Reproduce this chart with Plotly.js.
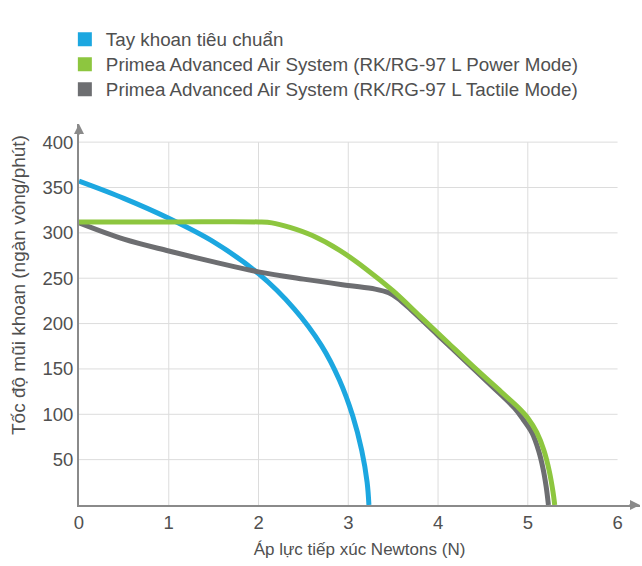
<!DOCTYPE html>
<html>
<head>
<meta charset="utf-8">
<script src="https://cdn.plot.ly/plotly-3.0.1.min.js"></script>
<style>html,body{margin:0;padding:0;background:#fff;}</style>
</head>
<body>
<div id="chart" style="width:642px;height:566px;"></div>
<script>
// Data
const seriesNames = [
  "Tay khoan tiêu chuẩn",
  "Primea Advanced Air System (RK/RG-97 L Power Mode)",
  "Primea Advanced Air System (RK/RG-97 L Tactile Mode)"
];
const blueX  = [0, 0.5, 1, 1.5, 2, 2.4, 2.7, 2.9, 3.05, 3.15, 3.21, 3.23];
const blueY  = [357, 338, 316, 290, 255, 216, 176, 138, 98, 60, 25, 0];
const greenX = [0, 1, 2, 2.15, 2.35, 2.6, 2.9, 3.2, 3.5, 3.8, 4.1, 4.4, 4.7, 4.9, 5.0, 5.1, 5.18, 5.24, 5.28, 5.3];
const greenY = [312, 312, 312, 311, 306, 297, 281, 260, 236, 208, 180, 152, 125, 107, 96, 80, 60, 37, 15, 0];
const grayX  = [0, 0.5, 1, 1.5, 2, 2.5, 3, 3.3, 3.45, 3.55, 3.7, 4.0, 4.3, 4.6, 4.85, 4.95, 5.05, 5.12, 5.17, 5.205, 5.23];
const grayY  = [311, 293, 280, 268, 257, 249, 242, 238, 234, 228, 215, 187, 159, 131, 107, 94, 79, 60, 40, 20, 0];
const xTicks = [0, 1, 2, 3, 4, 5, 6];
const yTicks = [50, 100, 150, 200, 250, 300, 350, 400];
const xTitle = "Áp lực tiếp xúc Newtons (N)";
const yTitle = "Tốc độ mũi khoan (ngàn vòng/phút)";
const colors = ["#1ca7e0", "#8dc63f", "#6d6e71"];

const xs = [blueX, greenX, grayX];
const ys = [blueY, greenY, grayY];
const order = [0, 2, 1];
const traces = [];
order.forEach(i => {
  traces.push({
    x: xs[i], y: ys[i], type: "scatter", mode: "lines",
    line: {color: colors[i], width: 5, shape: "spline", smoothing: 1},
    showlegend: false, hoverinfo: "skip"
  });
});
[0, 1, 2].forEach(i => {
  traces.push({
    x: [null], y: [null], type: "scatter", mode: "markers",
    name: '<span style="font-size:18.8px">' + seriesNames[i] + '</span>',
    marker: {symbol: "square", size: 14, color: colors[i]}, showlegend: true
  });
});

const shapes = [];
xTicks.filter(v => v > 0 && v < 6).forEach(v => {
  shapes.push({type: "line", xref: "x", yref: "y", x0: v, x1: v, y0: 0, y1: 400,
    line: {color: "#dcdcdc", width: 1}, layer: "below"});
});
yTicks.forEach(v => {
  shapes.push({type: "line", xref: "x", yref: "y", x0: 0, x1: 6, y0: v, y1: v,
    line: {color: "#dcdcdc", width: 1}, layer: "below"});
});

const fam = "Liberation Sans, Arial, sans-serif";
const tc = "#505050";
const font = {family: fam, size: 18.5, color: tc};
const layout = {
  width: 642, height: 566,
  margin: {l: 79, r: 2, t: 124, b: 61},
  paper_bgcolor: "#ffffff", plot_bgcolor: "#ffffff",
  font: font,
  showlegend: true,
  legend: {x: -0.027, y: 0.9615, yref: "container", xanchor: "left", yanchor: "top",
           font: {family: fam, size: 16.9, color: tc}, bgcolor: "rgba(0,0,0,0)",
           tracegroupgap: 0, itemwidth: 32},
  xaxis: {range: [0, 6.25], tickvals: xTicks, ticktext: xTicks.map(String),
          showgrid: false, zeroline: false, showline: true, linecolor: "#8a8a8a", linewidth: 2,
          ticks: "", tickfont: font, fixedrange: true,
          title: {text: xTitle, font: {family: fam, size: 17, color: tc}, standoff: 11}},
  yaxis: {range: [0, 420], tickvals: [0].concat(yTicks), ticktext: [""].concat(yTicks.map(String)),
          showgrid: false, zeroline: false, showline: true, linecolor: "#8a8a8a", linewidth: 2,
          ticks: "", tickfont: font, fixedrange: true},
  shapes: shapes,
  annotations: [
    {x: 0, y: 420, xref: "x", yref: "y", ax: 0, ay: 12, showarrow: true, arrowhead: 2,
     arrowsize: 1, arrowwidth: 2, arrowcolor: "#8a8a8a", text: ""},
    {x: 6.25, y: 0, xref: "x", yref: "y", ax: -12, ay: 0, showarrow: true, arrowhead: 2,
     arrowsize: 1, arrowwidth: 2, arrowcolor: "#8a8a8a", text: ""},
    {text: yTitle, textangle: -90, xref: "paper", yref: "paper", x: -0.109, y: 0.577,
     xanchor: "center", yanchor: "middle", showarrow: false,
     font: {family: fam, size: 19, color: tc}}
  ]
};
Plotly.newPlot("chart", traces, layout, {displayModeBar: false, staticPlot: true});
</script>
</body>
</html>
